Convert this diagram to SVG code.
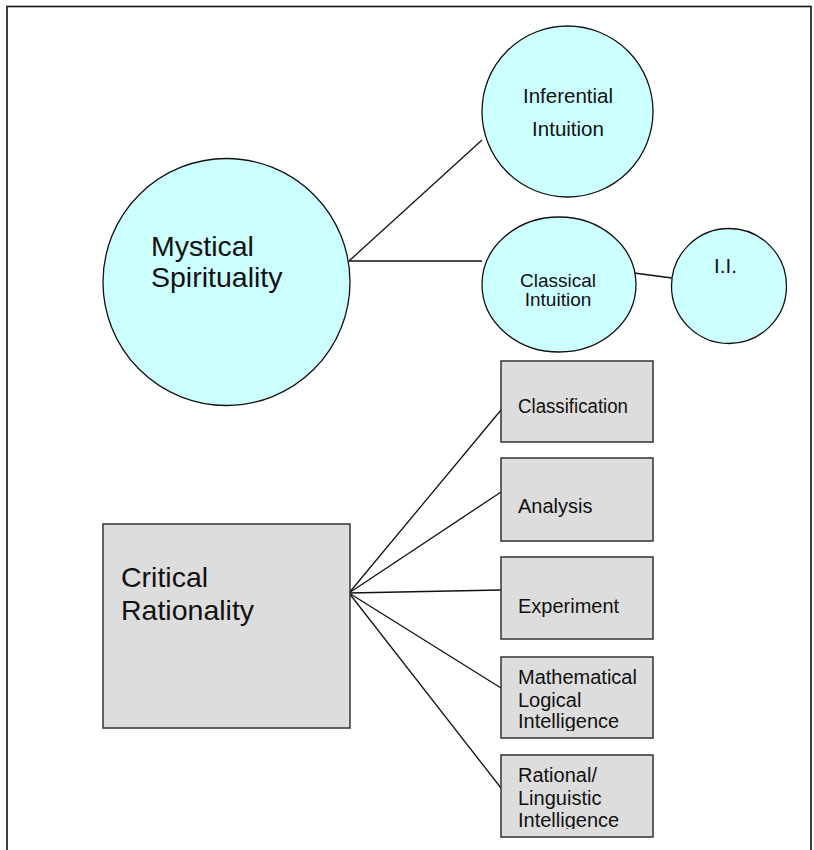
<svg xmlns="http://www.w3.org/2000/svg" width="814" height="850" viewBox="0 0 814 850">
  <style>
    .frame { fill: #ffffff; stroke: #111111; stroke-width: 1.6; }
    .bubble { fill: #ccffff; stroke: #111111; stroke-width: 1.3; }
    .box { fill: #dddddd; stroke: #333333; stroke-width: 1.5; }
    .link { stroke: #111111; stroke-width: 1.3; fill: none; }
    text { font-family: "Liberation Sans", Arial, sans-serif; fill: #111111; }
    .big { font-size: 28.5px; }
    .mid { font-size: 20.5px; }
    .small { font-size: 19px; }
    .item { font-size: 20px; }
  </style>
  <defs>
    <clipPath id="clipMath"><rect x="502" y="658" width="150" height="73"/></clipPath>
    <clipPath id="clipLing"><rect x="502" y="756" width="150" height="73"/></clipPath>
  </defs>

  <!-- page frame -->
  <rect class="frame" x="7" y="6.5" width="804" height="860"/>

  <!-- connectors -->
  <g id="connectors">
    <line class="link" x1="349" y1="261" x2="482" y2="140"/>
    <line class="link" x1="349" y1="261" x2="482" y2="261"/>
    <line class="link" x1="634" y1="273" x2="672" y2="278"/>
    <line class="link" x1="349" y1="593" x2="501" y2="410"/>
    <line class="link" x1="349" y1="593" x2="501" y2="492"/>
    <line class="link" x1="349" y1="593" x2="501" y2="590"/>
    <line class="link" x1="349" y1="593" x2="501" y2="688"/>
    <line class="link" x1="349" y1="593" x2="501" y2="788"/>
  </g>

  <g id="mystical">
    <circle class="bubble" cx="226.5" cy="282" r="123.5"/>
    <text class="big" x="151" y="256">Mystical</text>
    <text class="big" x="151" y="287">Spirituality</text>
  </g>

  <g id="inferential">
    <circle class="bubble" cx="567.5" cy="111.5" r="85.5"/>
    <text class="mid" x="568" y="103" text-anchor="middle">Inferential</text>
    <text class="mid" x="568" y="136" text-anchor="middle">Intuition</text>
  </g>

  <g id="classical">
    <ellipse class="bubble" cx="559" cy="284.5" rx="77" ry="67.5"/>
    <text class="small" x="558" y="287" text-anchor="middle">Classical</text>
    <text class="small" x="558" y="306" text-anchor="middle">Intuition</text>
  </g>

  <g id="ii">
    <circle class="bubble" cx="729" cy="286" r="57.5"/>
    <text class="mid" x="725.5" y="273" text-anchor="middle">I.I.</text>
  </g>

  <g id="critical">
    <rect class="box" x="103" y="524" width="247" height="204"/>
    <text class="big" x="121" y="587">Critical</text>
    <text class="big" x="121" y="620">Rationality</text>
  </g>

  <g id="classification">
    <rect class="box" x="501" y="361" width="152" height="81"/>
    <text class="item" x="518" y="413" textLength="110" lengthAdjust="spacingAndGlyphs">Classification</text>
  </g>

  <g id="analysis">
    <rect class="box" x="501" y="458" width="152" height="83"/>
    <text class="item" x="518" y="513">Analysis</text>
  </g>

  <g id="experiment">
    <rect class="box" x="501" y="557" width="152" height="82"/>
    <text class="item" x="518" y="613">Experiment</text>
  </g>

  <g id="mathematical">
    <rect class="box" x="501" y="657" width="152" height="81"/>
    <g clip-path="url(#clipMath)">
      <text class="item" x="518" y="684">Mathematical</text>
      <text class="item" x="518" y="707">Logical</text>
      <text class="item" x="518" y="728">Intelligence</text>
    </g>
  </g>

  <g id="linguistic">
    <rect class="box" x="501" y="755" width="152" height="82"/>
    <g clip-path="url(#clipLing)">
      <text class="item" x="518" y="782">Rational/</text>
      <text class="item" x="518" y="805">Linguistic</text>
      <text class="item" x="518" y="827">Intelligence</text>
    </g>
  </g>
</svg>
